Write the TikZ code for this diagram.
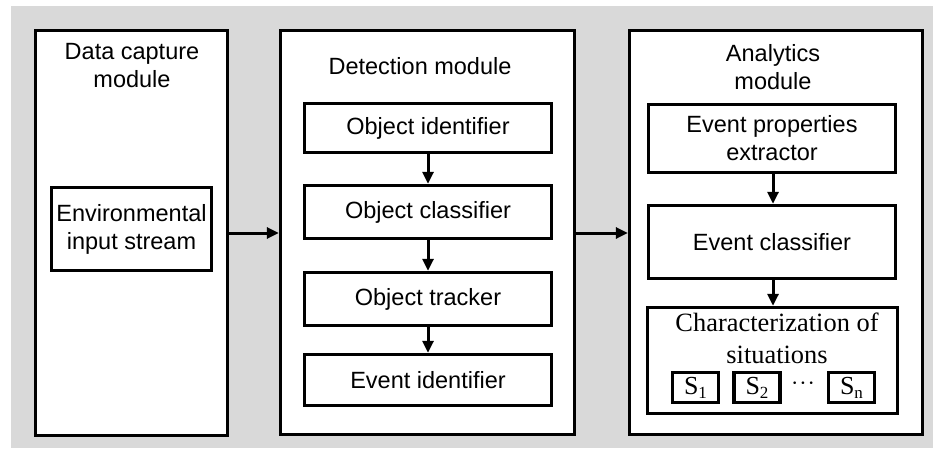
\documentclass[tikz,border=0pt]{standalone}
\usepackage{fontspec}
\setmainfont{Liberation Sans}
\newfontfamily\timesface{Liberation Serif}
\usetikzlibrary{arrows.meta}
\definecolor{panelgray}{RGB}{217,217,217}
\tikzset{
  module/.style={draw=black, line width=3.4pt, fill=white, inner sep=0pt},
  unit/.style={draw=black, line width=3.4pt, fill=white, inner sep=0pt, align=center,
    font=\fontsize{23.5}{28}\selectfont},
  title/.style={inner sep=0pt, align=center, font=\fontsize{23.5}{28}\selectfont},
  sbox/.style={draw=black, line width=3.4pt, fill=white, inner sep=0pt,
    minimum width=46pt, minimum height=30pt, font=\timesface\fontsize{26}{26}\selectfont},
  flow/.style={line width=3pt, -{Triangle[length=12pt,width=11pt]}},
}
\newcommand{\subidx}[1]{\raisebox{-0.35ex}{\fontsize{17}{17}\selectfont #1}}
\begin{document}
\begin{tikzpicture}[x=1pt, y=-1pt]
  \useasboundingbox (0,0) rectangle (933,449);
  \fill[panelgray] (11,6) rectangle (933,448);

  % three module frames
  \node[module, minimum width=192pt, minimum height=405pt] (capture) at (131.5,233) {};
  \node[module, minimum width=294pt, minimum height=404pt] (detect) at (427.5,232.5) {};
  \node[module, minimum width=293pt, minimum height=404pt] (analytics) at (776,232.5) {};

  % module titles
  \node[title] (captureT) at (132,66) {Data capture\\module};
  \node[title] (detectT) at (420,66) {Detection module};
  \node[title] (analyticsT) at (773,67) {Analytics\\module};

  % data capture content
  \node[unit, minimum width=160pt, minimum height=83pt] (env) at (131.5,229) {Environmental\\input stream};

  % detection chain
  \node[unit, minimum width=247pt, minimum height=49pt] (oid) at (428,128) {Object identifier};
  \node[unit, minimum width=247pt, minimum height=53pt] (ocl) at (428,212) {Object classifier};
  \node[unit, minimum width=247pt, minimum height=53pt] (otr) at (428,299) {Object tracker};
  \node[unit, minimum width=247pt, minimum height=51pt] (eid) at (428,380) {Event identifier};

  % analytics chain
  \node[unit, minimum width=247pt, minimum height=68pt] (epe) at (772,138.5) {Event properties\\extractor};
  \node[unit, minimum width=247pt, minimum height=73pt] (ecl) at (772,242) {Event classifier};
  \node[module, minimum width=250pt, minimum height=106pt] (chr) at (772.5,360.5) {};
  \node[inner sep=0pt, align=center, font=\timesface\fontsize{26.4}{32}\selectfont] (chrT) at (777,338)
    {Characterization of\\situations};
  \node[sbox] (s1) at (695.5,387.5) {S\subidx{1}};
  \node[sbox] (s2) at (757,387.5) {S\subidx{2}};
  \node[inner sep=0pt, text height=3pt, text depth=0pt, font=\timesface\fontsize{22}{22}\selectfont] (dots) at (803,389)
    {\textperiodcentered\kern1pt\textperiodcentered\kern1pt\textperiodcentered};
  \node[sbox] (sn) at (851.5,387.5) {S\subidx{n}};

  % connectors
  \draw[flow] (capture.east |- 0,233) -- (detect.west |- 0,233);
  \draw[flow] (detect.east |- 0,233) -- (analytics.west |- 0,233);
  \draw[flow] (oid) -- (ocl);
  \draw[flow] (ocl) -- (otr);
  \draw[flow] (otr) -- (eid);
  \draw[flow] (epe.south -| 773,0) -- (ecl.north -| 773,0);
  \draw[flow] (ecl.south -| 773,0) -- (chr.north -| 773,0);
\end{tikzpicture}
\end{document}
